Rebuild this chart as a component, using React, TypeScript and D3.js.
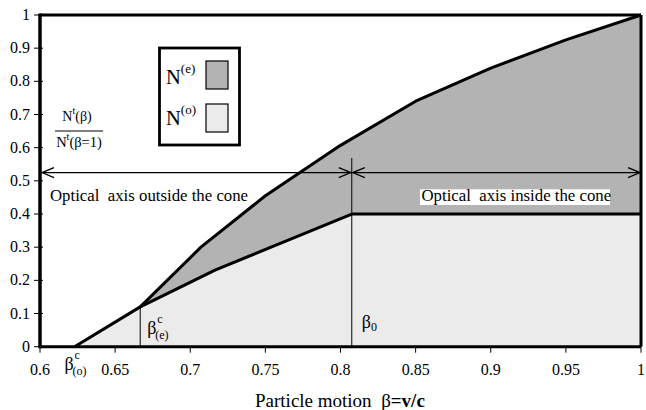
import React from 'react'
import * as d3 from 'd3'

// Data
const upperBeta = [0.6667, 0.7071, 0.75, 0.8, 0.85, 0.9, 0.95, 1]
const upperN = [0.12, 0.3, 0.455, 0.607, 0.74, 0.84, 0.925, 1]
const lowerBeta = [0.623, 0.6667, 0.7165, 0.8075, 1]
const lowerN = [0, 0.12, 0.231, 0.4, 0.4]
const xTicks = [0.6, 0.65, 0.7, 0.75, 0.8, 0.85, 0.9, 0.95, 1]
const yTicks = [0, 0.1, 0.2, 0.3, 0.4, 0.5, 0.6, 0.7, 0.8, 0.9, 1]
const betaO = 0.623
const betaE = 0.6667
const betaEN = 0.12
const beta0 = 0.8075
const arrowLevel = 0.525

const W = 646
const H = 410
const FONT = 'Liberation Serif'
const DARK = '#b3b3b3'
const LIGHT = '#ebebeb'

// text with the serif font set directly on the element
const T = (props: any) => <text fontFamily={FONT} {...props} />

export default function App() {
  const x = d3.scaleLinear().domain([0.6, 1]).range([40, 641])
  const y = d3.scaleLinear().domain([0, 1]).range([346.7, 15])

  const upper = upperBeta.map((b, i) => [b, upperN[i]] as [number, number])
  const lower = lowerBeta.map((b, i) => [b, lowerN[i]] as [number, number])

  const line = d3
    .line<[number, number]>()
    .x(d => x(d[0]))
    .y(d => y(d[1]))
  const area = d3
    .area<[number, number]>()
    .x(d => x(d[0]))
    .y0(y(0))
    .y1(d => y(d[1]))

  const ay = y(arrowLevel)
  const xb0 = x(beta0)
  const xl = x(0.6)
  const xr = x(1)
  const chevron = (tip: number, dir: number) =>
    `M${tip + dir * 12},${ay - 5} L${tip},${ay} L${tip + dir * 12},${ay + 5}`

  // beta with super/subscript, placed as separate texts so they don't collide
  const betaSS = (bx: number, by: number, sub: string) => (
    <g>
      <T x={bx} y={by} fontSize={18}>β</T>
      <T x={bx + 10} y={by - 11} fontSize={12}>c</T>
      <T x={bx + 8} y={by + 5} fontSize={12}>{sub}</T>
    </g>
  )

  return (
    <svg
      width={W}
      height={H}
      style={{ position: 'absolute', left: 0, top: 0, background: '#fff' }}
    >
      {/* filled regions */}
      <path d={area(upper) as string} fill={DARK} />
      <path d={area(lower) as string} fill={LIGHT} />

      {/* vertical markers */}
      <line x1={x(betaE)} x2={x(betaE)} y1={y(betaEN)} y2={y(0)} stroke="#000" strokeWidth={1} />
      <line x1={xb0} x2={xb0} y1={158} y2={y(0)} stroke="#000" strokeWidth={1} />

      {/* arrows */}
      <line x1={xl} x2={xr} y1={ay} y2={ay} stroke="#000" strokeWidth={1.3} />
      <path d={chevron(xl + 2, 1)} fill="none" stroke="#000" strokeWidth={1.3} />
      <path d={chevron(xb0 - 1, -1)} fill="none" stroke="#000" strokeWidth={1.3} />
      <path d={chevron(xb0 + 1, 1)} fill="none" stroke="#000" strokeWidth={1.3} />
      <path d={chevron(xr - 1, -1)} fill="none" stroke="#000" strokeWidth={1.3} />

      {/* curves */}
      <path d={line(upper) as string} fill="none" stroke="#000" strokeWidth={3} strokeLinejoin="round" />
      <path d={line(lower) as string} fill="none" stroke="#000" strokeWidth={3} strokeLinejoin="round" />

      {/* frame */}
      <line x1={xl} x2={xr} y1={y(1)} y2={y(1)} stroke="#000" strokeWidth={3} />
      <line x1={xr} x2={xr} y1={y(1)} y2={y(0)} stroke="#000" strokeWidth={3} />
      <line x1={xl} x2={xr} y1={y(0)} y2={y(0)} stroke="#000" strokeWidth={3} />
      <line x1={xl} x2={xl} y1={y(1) - 1.5} y2={y(0) + 1.5} stroke="#000" strokeWidth={3.5} />

      {/* y ticks */}
      {yTicks.map(t => (
        <g key={'y' + t}>
          <line x1={xl - 6} x2={xl + 3} y1={y(t)} y2={y(t)} stroke="#000" strokeWidth={1} />
          <T x={xl - 10} y={y(t) + 5} textAnchor="end" fontSize={16}>
            {String(t)}
          </T>
        </g>
      ))}

      {/* x ticks */}
      {xTicks.map(t => (
        <g key={'x' + t}>
          <line x1={x(t)} x2={x(t)} y1={y(0)} y2={y(0) + 6} stroke="#000" strokeWidth={1} />
          <T x={x(t)} y={375} textAnchor="middle" fontSize={16}>
            {String(t)}
          </T>
        </g>
      ))}

      {/* region labels */}
      <T x={50} y={201} fontSize={16.8} style={{ whiteSpace: 'pre' }}>
        {'Optical  axis outside the cone'}
      </T>
      <rect x={420} y={189.3} width={190} height={15.7} fill="#fff" />
      <T x={421.5} y={201} fontSize={16.8} style={{ whiteSpace: 'pre' }}>
        {'Optical  axis inside the cone'}
      </T>

      {/* beta labels */}
      {betaSS(x(betaE) + 7, 334, '(e)')}
      {betaSS(x(betaO) - 10, 370, '(o)')}
      <T x={xb0 + 10} y={328} fontSize={18}>
        β<tspan fontSize={12} dy={3}>0</tspan>
      </T>

      {/* y axis label fraction */}
      <T x={77} y={121} textAnchor="middle" fontSize={14}>
        N<tspan fontSize={10} dy={-7}>t</tspan>
        <tspan dy={7}>(β)</tspan>
      </T>
      <line x1={55} x2={103} y1={131} y2={131} stroke="#000" strokeWidth={1} />
      <T x={79} y={147} textAnchor="middle" fontSize={14.5}>
        N<tspan fontSize={10} dy={-7}>t</tspan>
        <tspan dy={7}>(β=1)</tspan>
      </T>

      {/* legend */}
      <rect x={159.5} y={48} width={80} height={97} fill="#fff" stroke="#000" strokeWidth={2.8} />
      <T x={166} y={83.5} fontSize={20.5}>
        N<tspan fontSize={13} dy={-11}>(e)</tspan>
      </T>
      <rect x={206} y={61} width={22} height={28} fill={DARK} stroke="#000" strokeWidth={1.2} />
      <T x={166} y={125} fontSize={20.5}>
        N<tspan fontSize={13} dy={-11}>(o)</tspan>
      </T>
      <rect x={206} y={104} width={22} height={28} fill={LIGHT} stroke="#000" strokeWidth={1.2} />

      {/* x axis title */}
      <T x={255} y={407} fontSize={19} style={{ whiteSpace: 'pre' }}>
        {'Particle motion  '}
        <tspan>β</tspan>
        <tspan fontWeight="bold">=v/c</tspan>
      </T>
    </svg>
  )
}
